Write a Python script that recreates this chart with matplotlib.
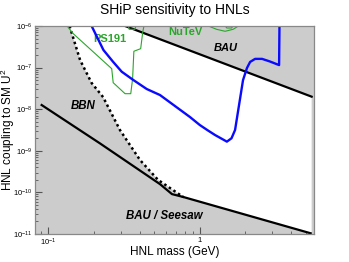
import matplotlib
matplotlib.use("Agg")
import matplotlib.pyplot as plt
import numpy as np
from matplotlib.ticker import FixedLocator, LogLocator, NullFormatter

plt.rcParams['font.family'] = ['Liberation Sans', 'DejaVu Sans']
plt.rcParams['mathtext.fontset'] = 'custom'
plt.rcParams['mathtext.rm'] = 'Liberation Sans'
plt.rcParams['mathtext.it'] = 'Liberation Sans:italic'
plt.rcParams['mathtext.bf'] = 'Liberation Sans:bold'

# BBN bound (dotted)
bbn_m = [0.138, 0.162, 0.193, 0.230, 0.297, 0.403, 0.530, 0.707, 0.774]
bbn_u = [1e-6, 1.52e-7, 4.27e-8, 1.95e-8, 3.16e-9, 6.0e-10, 2.0e-10, 9.8e-11, 7.8e-11]

# BAU / seesaw lower bound
seesaw_m = [0.774, 5.40]
seesaw_u = [7.8e-11, 1.04e-11]

# BAU upper bound
bau_m = [0.321, 5.48]
bau_u = [1e-6, 2.0e-8]

# inner BAU line (left)
inner_m = [0.0903, 0.219, 0.546, 0.655, 0.774]
inner_u = [1.26e-8, 1.51e-9, 1.58e-10, 9.1e-11, 7.8e-11]

# SHiP sensitivity
ship_m = [0.193, 0.231, 0.267, 0.305, 0.364, 0.446, 0.546, 0.686, 0.861, 1.0,
          1.12, 1.26, 1.51, 1.62, 1.71, 1.93, 2.05, 2.15, 2.32, 2.58, 2.91, 3.34, 3.36]
ship_u = [1e-6, 2.65e-7, 1.39e-7, 7.97e-8, 5.03e-8, 3.06e-8, 2.19e-8, 1.19e-8, 6.49e-9, 4.17e-9,
          3.16e-9, 2.4e-9, 1.66e-9, 2.0e-9, 3.16e-9, 5.0e-8, 9.8e-8, 1.37e-7, 1.62e-7, 1.62e-7,
          1.40e-7, 1.15e-7, 1e-6]

# PS191
ps_m = [0.133, 0.146, 0.262, 0.268, 0.321, 0.350, 0.360, 0.367, 0.407, 0.420, 0.428]
ps_u = [1e-6, 6.53e-7, 9.42e-8, 4.34e-8, 2.36e-8, 2.36e-8, 5.41e-8, 2.47e-7, 2.85e-7, 7.17e-7, 1e-6]

# NuTeV pieces
nutev_a_m = [0.337, 0.342, 0.373, 0.379]
nutev_a_u = [1e-6, 8.33e-7, 8.33e-7, 1e-6]
nutev_b_m = [1.14, 1.29, 1.47, 1.66, 1.80]
nutev_b_u = [1e-6, 8.33e-7, 7.46e-7, 8.33e-7, 1e-6]
nutev_c_m = [1.47, 1.51, 1.62, 1.66]
nutev_c_u = [1e-6, 8.95e-7, 8.95e-7, 1e-6]

xticks = [0.1, 1]
xticklabels = [r'$10^{-1}$', '1']
yticks = [1e-11, 1e-10, 1e-9, 1e-8, 1e-7, 1e-6]
yticklabels = [r'$10^{-11}$', r'$10^{-10}$', r'$10^{-9}$', r'$10^{-8}$', r'$10^{-7}$', r'$10^{-6}$']

green = '#2ca52c'

fig = plt.figure(figsize=(3.49, 2.62), dpi=100)
ax = fig.add_axes([35/349, 28/262, 279/349, 208/262])
ax.set_xscale('log')
ax.set_yscale('log')
ax.set_xlim(0.0816, 5.68)
ax.set_ylim(1e-11, 1e-6)
ax.set_facecolor('#cccccc')

# white allowed region
poly_m = bbn_m + seesaw_m[1:] + [bau_m[1], bau_m[1], bau_m[0]]
poly_u = bbn_u + seesaw_u[1:] + [seesaw_u[1], bau_u[1], bau_u[0]]
ax.fill(poly_m, poly_u, color='white', lw=0, zorder=0.5)

ax.plot(bbn_m, bbn_u, color='black', lw=1.8, ls=(0, (1, 1.2)), zorder=3)
ax.plot(seesaw_m, seesaw_u, color='black', lw=1.6, zorder=3)
ax.plot(bau_m, bau_u, color='black', lw=1.6, zorder=3)
ax.plot(inner_m, inner_u, color='black', lw=1.6, zorder=3)
ax.plot(ship_m, ship_u, color='#0a0aff', lw=1.7, zorder=4, solid_joinstyle='round')
ax.plot(ps_m, ps_u, color=green, lw=0.8, zorder=3)
ax.plot(nutev_a_m, nutev_a_u, color=green, lw=0.8, zorder=3)
ax.plot(nutev_b_m, nutev_b_u, color=green, lw=0.8, zorder=3)
ax.plot(nutev_c_m, nutev_c_u, color=green, lw=0.8, zorder=3)

ax.text(0.255, 4.9e-7, 'PS191', color=green, fontsize=8, fontweight='bold', ha='center', va='center')
ax.text(0.80, 7.2e-7, 'NuTeV', color=green, fontsize=8, fontweight='bold', ha='center', va='center')
ax.text(1.49, 2.9e-7, 'BAU', color='black', fontsize=8, fontweight='bold', style='italic', ha='center', va='center')
ax.text(0.169, 1.2e-8, 'BBN', color='black', fontsize=8.3, fontweight='bold', style='italic', ha='center', va='center')
ax.text(0.58, 2.7e-11, 'BAU / Seesaw', color='black', fontsize=8.3, fontweight='bold', style='italic', ha='center', va='center')

ax.xaxis.set_major_locator(FixedLocator(xticks))
ax.set_xticklabels(xticklabels)
ax.xaxis.set_minor_locator(LogLocator(base=10, subs=np.arange(2, 10)))
ax.xaxis.set_minor_formatter(NullFormatter())
ax.yaxis.set_major_locator(FixedLocator(yticks))
ax.set_yticklabels(yticklabels)
ax.yaxis.set_minor_locator(LogLocator(base=10, subs=np.arange(2, 10), numticks=20))
ax.yaxis.set_minor_formatter(NullFormatter())
ax.tick_params(which='both', direction='in', top=False, right=False, color='#555555', labelsize=5.5, pad=2)
ax.tick_params(which='major', length=5, width=0.8)
ax.tick_params(which='minor', length=2.5, width=0.6)
for s in ax.spines.values():
    s.set_color('#888888')
    s.set_linewidth(0.9)
    s.set_zorder(5)

ax.set_xlabel('HNL mass (GeV)', fontsize=8.5, va='center')
ax.xaxis.set_label_coords(0.5, -18/208)
ax.set_ylabel('HNL coupling to SM U$^2$', fontsize=8.5, va='center')
ax.yaxis.set_label_coords(-27/279, 0.5)
fig.text(175/349, 1 - 10/262, 'SHiP sensitivity to HNLs', fontsize=10, ha='center', va='center')

fig.savefig('out.png', dpi=100)
